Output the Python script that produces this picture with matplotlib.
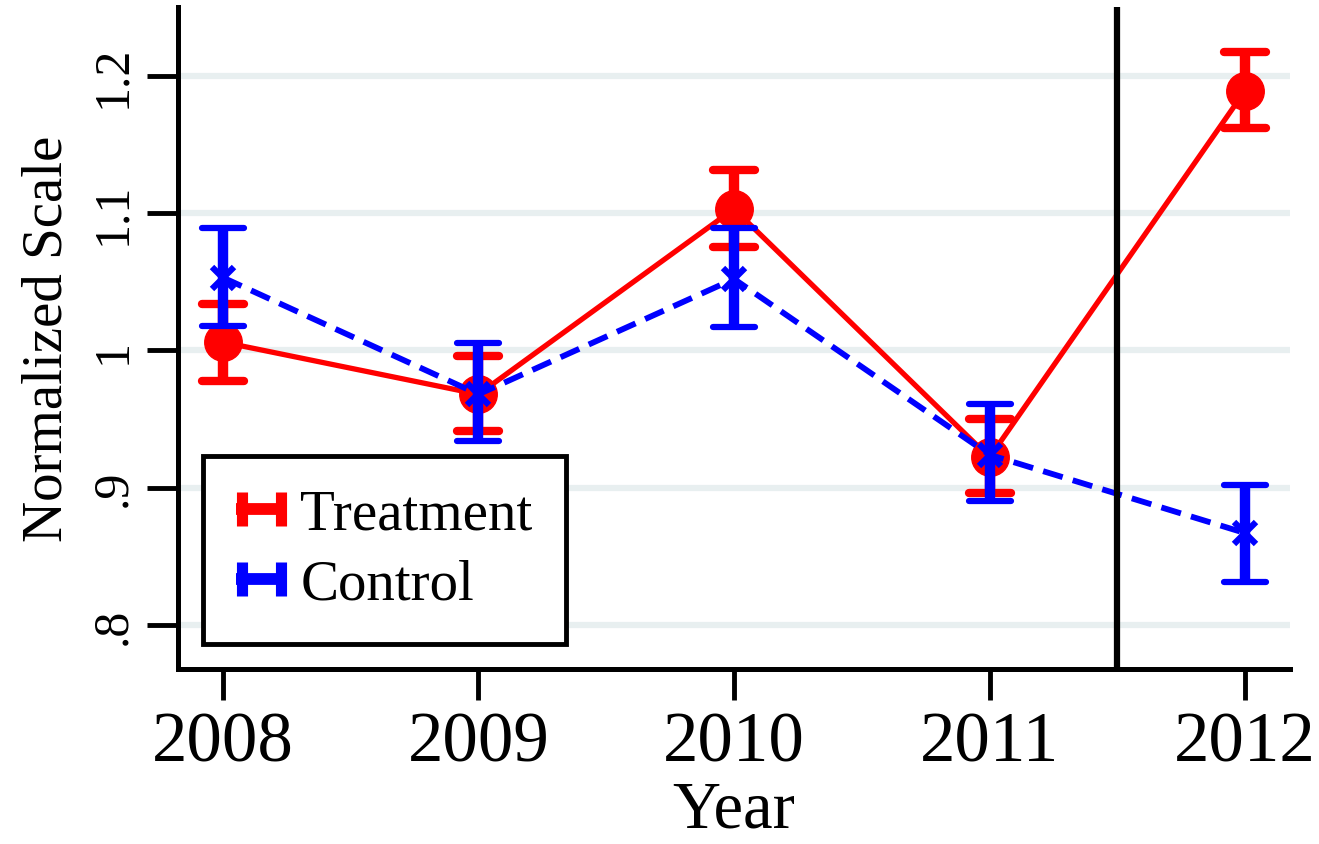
import matplotlib
matplotlib.use("Agg")
import matplotlib.pyplot as plt
from matplotlib.lines import Line2D
from matplotlib.markers import MarkerStyle
from matplotlib.legend_handler import HandlerBase

years = [2008, 2009, 2010, 2011, 2012]
treat_mean = [1.006, 0.968, 1.103, 0.922, 1.189]
treat_lo = [0.978, 0.941, 1.075, 0.896, 1.162]
treat_hi = [1.034, 0.996, 1.131, 0.950, 1.217]
ctrl_mean = [1.053, 0.968, 1.052, 0.924, 0.867]
ctrl_lo = [1.018, 0.934, 1.017, 0.890, 0.831]
ctrl_hi = [1.089, 1.005, 1.089, 0.961, 0.902]
ytick_vals = [0.8, 0.9, 1.0, 1.1, 1.2]
ytick_labels = [".8", ".9", "1", "1.1", "1.2"]
series_names = ["Treatment", "Control"]
cutoff_year = 2011.5

plt.rcParams['font.family'] = ['Liberation Serif', 'DejaVu Serif']

fig = plt.figure(figsize=(13.19, 8.45), dpi=100)
ax = fig.add_axes([178/1319, 1 - 670/845, (1290-178)/1319, (670-8)/845])

def errs(mean, lo, hi):
    return [[m - l for m, l in zip(mean, lo)], [h - m for m, h in zip(mean, hi)]]

round_cap = MarkerStyle('_', capstyle='round')

eb_t = ax.errorbar(years, treat_mean, yerr=errs(treat_mean, treat_lo, treat_hi),
                   fmt='-o', color='#ff0000', lw=3.8, ms=27, elinewidth=7.5,
                   capsize=15, capthick=6, zorder=3)
eb_c = ax.errorbar(years, ctrl_mean, yerr=errs(ctrl_mean, ctrl_lo, ctrl_hi),
                   fmt='--x', color='#0000ff', lw=4.2, ms=16, mew=4.5, elinewidth=7.5,
                   capsize=15, capthick=6, zorder=4, dashes=(3.5, 1.8))
for eb in (eb_t, eb_c):
    for cl in eb[1]:
        cl.set_marker(round_cap)
    for bc in eb[2]:
        bc.set_capstyle('butt')

ax.axvline(cutoff_year, color='black', lw=4.5, zorder=5)

ax.set_xlim(2007.824, 2012.176)
ax.set_ylim(0.768, 1.250)
ax.set_xticks(years)
ax.set_xticklabels([str(y) for y in years], fontsize=51)
ax.set_yticks(ytick_vals)
ax.set_yticklabels(ytick_labels, fontsize=36, rotation=90, va='center')
ax.tick_params(axis='both', width=3.5, length=22, color='black')
ax.tick_params(axis='x', pad=8)
ax.tick_params(axis='y', pad=8)
ax.set_xlabel("Year", fontsize=48, labelpad=3)
ax.set_ylabel("Normalized Scale", fontsize=41, labelpad=12)

ax.yaxis.grid(True, color='#e8eff0', lw=4.5)
ax.set_axisbelow(True)
for s in ['top', 'right']:
    ax.spines[s].set_visible(False)
for s in ['left', 'bottom']:
    ax.spines[s].set_linewidth(3.6)


class ErrHandler(HandlerBase):
    def create_artists(self, legend, orig_handle, xdescent, ydescent,
                       width, height, fontsize, trans):
        c = orig_handle.get_color()
        y = height / 2 - ydescent
        x0 = -xdescent
        x1 = x0 + width
        bar = Line2D([x0, x1], [y, y], color=c, lw=8.5, solid_capstyle='butt', transform=trans)
        caps = Line2D([x0 + 4, x1 - 4], [y, y], color=c, lw=0, marker='|', ms=24, mew=8,
                      transform=trans)
        return [bar, caps]


proxies = [Line2D([], [], color='#ff0000'), Line2D([], [], color='#0000ff')]
leg = ax.legend(proxies, series_names, handler_map={Line2D: ErrHandler()},
                loc='lower left', bbox_to_anchor=(0.0225, 0.038), borderaxespad=0,
                fontsize=41, frameon=True, fancybox=False, edgecolor='black',
                framealpha=1, handlelength=0.88, handletextpad=0.25,
                labelspacing=0.32, borderpad=0.58)
leg.get_frame().set_linewidth(3.5)
leg.set_zorder(10)

fig.savefig("out.png", dpi=100)
